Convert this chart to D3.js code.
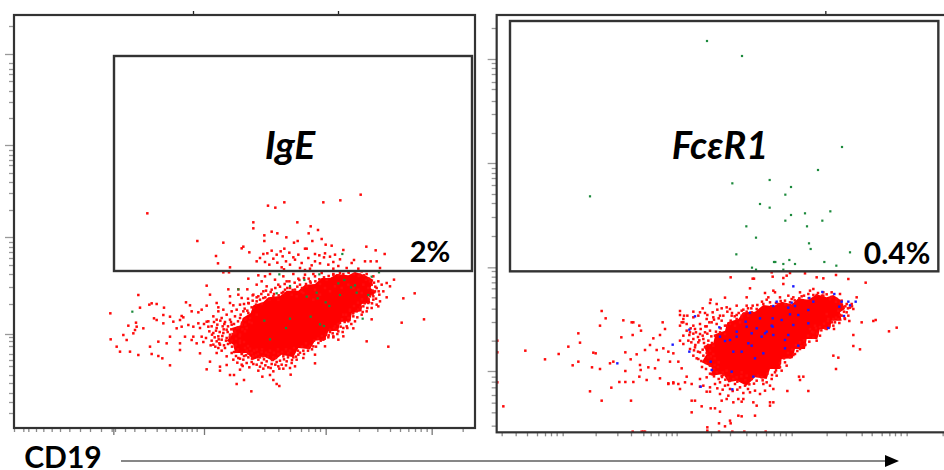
<!DOCTYPE html>
<html><head><meta charset="utf-8">
<script src="https://cdn.jsdelivr.net/npm/d3@7/dist/d3.min.js"></script>
<style>html,body{margin:0;padding:0;background:#fff;overflow:hidden}svg{display:block}text{font-family:Lato,"Open Sans",sans-serif;font-weight:700;fill:#000}</style>
</head><body><svg id="c" width="944" height="470"></svg>
<script>
// Channels. Left panel: IgE vs CD19
const leftRed=[[1082,700],[853,677],[804,667],[826,661],[970,677],[1021,683],[442,644],[760,617],[760,599],[892,617],[932,605],[926,584],[954,594],[815,589],[832,584],[793,578],[793,561],[859,572],[592,561],[670,556],[730,544],[725,539],[748,527],[882,556],[893,561],[937,561],[965,567],[977,550],[995,547],[1099,544],[1127,533],[1154,522],[648,516],[654,494],[690,482],[670,467],[687,467],
[790,522],[802,524],[815,532],[830,520],[842,530],[853,538],[868,526],[880,512],[915,538],[920,538],[945,522],[958,518],[975,524],[990,514],[1005,520],[1030,534],[1020,506],[1062,504],[1095,500],[1112,500],[1130,500],[770,500],[780,510],[795,498],[808,490],[820,508],[832,496],[848,515],[858,500],[870,490],[885,505],[895,520],[905,495],[925,510],[935,488],[945,500],[960,494],[972,512],[985,490],[1000,498],[1015,486],[1040,480],[1055,495],[1075,478],[845,482],[852,476],[900,480],[915,474],[930,478],[1000,478],[1045,470],[1085,470],[1140,480],
[745,448],[775,458],[785,440],[770,430],[795,455],[810,462],[825,445],[800,425],[790,410],[815,415],[835,430],[850,455],[860,440],[880,462],[895,448],[915,460],[930,440],[945,455],[965,465],[980,445],[1000,460],[1020,465],[870,420],[885,415],[900,430],[920,425],[945,415],[845,405],[905,408],[960,432],[1080,460],[1100,462],[1120,455],[1135,440],[1145,430],[1160,435],[1182,445],[1170,425],[1150,410],[1130,420],[1120,395],[1138,400],[1160,392],[1140,380],[1115,430],[1098,445],[1135,365],
[620,427],[630,400],[685,416],[715,416],[742,416],[690,395],[715,400],[725,390],[760,400],[775,395],[650,375],[655,362],[690,375],[700,368],[720,370],[745,375],[770,380],[655,350],[670,355],[680,340],[695,350],[710,355],[730,350],[745,345],[760,360],[785,372],[640,335],[625,320],[650,325],[665,330],[675,318],[690,325],[705,335],[720,330],[735,325],[750,330],[635,305],[650,300],[668,305],[680,295],[695,310],[712,300],[725,310],[740,300],[755,315],[770,340],[640,285],[655,275],[670,285],[690,280],[705,290],[720,280],[635,262],[650,260],[665,265],[680,270],[695,262],[735,290],
[462,329],[490,339],[510,334],[545,336],[550,332],[540,324],[520,319],[490,314],[470,324],[408,316],[385,307],[410,304],[405,294],[400,284],[430,299],[370,279],[380,264],[350,244],[360,229],[332,266],[331,344],[415,399],[420,361],[448,370],[455,374],[470,372],[492,361],[558,377],[570,368],[620,367],[605,355],[575,350],[595,347],[390,229],[415,219],[450,244],[475,259],[500,254],[510,274],[530,299],[545,304],[565,309],[580,304],[595,314],[620,319],[625,304],[605,274],[580,274],[575,264],[555,274],[540,254],[540,234],[590,254],[600,224],[455,222],[475,216],[487,209],[510,188],[620,176],[630,199],[660,184],[660,172],[680,189],[690,159],[702,159],[710,132],[732,144],[754,110],[820,144],[830,132],[838,126],[787,154],[810,159],[872,160],[945,194],[1100,260],[1165,244],[1205,316],[1272,326],[1210,389],[1244,404],[1115,326],[1060,299],
[660,250],[675,240],[690,255],[705,245],[720,255],[735,240],[650,225],[665,232],[680,215],[695,225],[710,230],[725,222],[740,232],[755,225],[770,235],[785,228],[700,205],[715,210],[730,205],[745,212],[760,215],[775,205],[790,215],[805,222],[820,212],[835,222],[850,215],[865,225],[880,212],[895,220],[910,232],[925,240],[940,245],[955,255],[970,265],[985,272],[1000,275],[1015,290],[1030,300],[1045,320],[1060,335],[725,190],[740,195],[755,198],[770,190],[785,195],[800,200],[815,192],[830,198],[845,190],[860,200],[875,195],[890,205],[720,175],[775,172],[790,178],[805,182],[820,170],[835,185],[850,178],[885,185],[910,210],[945,220],[975,245],[1015,265],[1030,275],
[1045,330],[1060,345],[1075,355],[1090,365],[1105,375],[1120,385],[1065,320],[1085,340],[1100,350],[1115,360],[1130,370],[1030,340],[1050,355],[1110,395],[1125,410],[1085,405],[1020,315],[1005,305],[990,295],[1040,305],
[790,390],[805,400],[820,395],[835,385],[855,415],[875,400],[890,395],[910,405],[925,395],[940,385],[960,400],[975,420],[990,410],[1005,425],[1025,420],[1045,430],[1060,420],[1075,415],[1090,430],[1105,420],[1118,412]];
const leftFringe=[[642,318],[652,310],[661,322],[673,312],[684,305],[693,318],[702,312],[714,320],[726,316],[738,328],[648,292],[659,288],[671,296],[683,288],[694,296],[706,284],[716,302],[727,296],[736,310],[748,318],[644,272],[656,266],[667,276],[678,262],[689,272],[698,282],[708,268],[719,276],[632,248],[646,244],[658,254],[672,248],[684,252],[696,244],[708,250],[720,262],[732,258],[744,246],
[702,228],[714,236],[726,226],[738,218],[750,238],[762,232],[774,222],[786,236],[798,226],[810,232],[822,226],[834,236],[846,228],[858,236],[870,232],[882,240],[894,232],[906,244],[918,254],[930,246],[942,262],[954,268],[966,276],
[708,216],[720,208],[732,216],[744,224],[756,208],[768,218],[780,212],[792,206],[804,214],[816,204],[828,210],[840,202],[852,206],[864,212],[876,204],[888,214],[900,226],[912,222],[924,232],[936,236],[948,244],
[712,196],[728,186],[748,182],[760,192],[780,184],[796,188],[812,180],[826,190],[838,178],[858,188],[870,180],
[978,280],[990,288],[1002,300],[1014,312],[1026,326],[1038,340],[1050,352],[1062,366],[1074,376],[1086,386],
[962,262],[974,268],[986,278],[998,284],[1010,296],[1022,304],[1034,318],[1046,330],[1058,344],[1070,350],[1082,362],[1094,374],[1106,386],[1118,400],
[1000,272],[1012,282],[1028,288],[1042,300],[1054,312],[1072,332],[1088,348],[1102,360],[1116,374],[1128,388],[1136,410],[1126,424],[1110,440],[1122,436],
[742,352],[755,362],[768,370],[780,385],[796,392],[808,385],[822,402],[836,398],[850,408],[862,420],[878,414],[892,424],[906,420],[918,432],[932,436],[946,440],[958,446],[972,452],[986,456],[1000,462],[1016,458],[1030,462],[1046,466],[1062,462],[1076,456],[1092,458],[1106,448],
[770,392],[784,402],[798,412],[812,408],[826,420],[840,424],[854,432],[868,440],[884,436],[898,444],[912,450],[926,448],[940,462],
[722,340],[734,358],[746,374],[758,382],[732,372],[744,388],[758,398],[600,300],[612,312],[628,290],[636,280],[618,270],[610,258],[640,250],[655,240]];
const leftCore=[[680,262],[700,285],[695,300],[722,308],[728,330],[752,345],[760,368],[790,378],[805,392],[840,396],[860,412],[895,412],[915,430],[945,432],[965,450],[990,450],[1010,462],[1045,458],[1065,468],[1095,458],[1120,445],[1112,420],[1128,405],[1105,395],[1112,375],[1085,372],[1085,350],[1055,345],[1052,320],[1020,318],[1015,292],[985,290],[975,265],[945,262],[930,236],[895,240],[880,212],[845,220],[820,200],[790,215],[760,205],[740,225],[705,225],[700,250]];
const leftGreen=[[397,349],[715,416],[830,404],[838,461],[870,426],[913,444],[958,461],[1027,522],[1015,434],[1033,444],[1137,467],[1115,454],[950,406],[953,389],[977,377],[988,366],[1020,399],[1070,406],[1053,422],[1065,428],[1105,399],[1088,328],[793,322],[870,328],[932,334],[858,300],[810,266],[960,311],[972,306],[920,394]];
const leftGate=[342,1416,471,1116];
const leftXTicks=[42,70,85,108,130,155,180,208,240,270,303,335,345,375,403,435,470,497,525,545,560,575,590,725,793,835,870,903,925,945,960,1077,1132,1170,1200,1225,1245,1262,1280,1388];
const leftXMajor=[340,612,977,1295];
const leftTopTicks=[579,1014];
const leftYMajor=[1122,849,573,282];
const leftYTicks=[1206,1095,1077,1062,1041,1011,978,930,834,819,804,789,765,738,705,654,558,543,528,510,489,462,423,372,273,261,246,222,204,186,159,135,105,78,45];
// Right panel: FceR1 vs CD19
const rightRed=[[752,465],[818,461],[822,461],[810,432],[875,480],[878,467],[910,463],[920,470],[930,478],[975,477],[1010,465],[1030,462],[1068,472],[1105,460],[1157,449],[910,445],[880,425],[855,418],[865,405],[885,420],[800,405],[735,404],[692,398],[690,388],
[1000,430],[1030,420],[1055,420],[1080,415],[990,425],[960,420],[925,410],[900,405],[935,400],[1070,400],[1085,395],[1100,385],[1115,385],[1130,405],[1120,370],[1100,360],[1085,350],[1095,340],[1075,340],[1065,330],
[600,364],[612,350],[640,345],[660,360],[675,358],[710,385],[725,372],[740,375],[750,370],[770,380],[785,365],[800,380],[815,360],[830,370],[755,350],[770,340],[785,350],[720,350],[700,345],[680,340],[605,330],[620,325],[640,320],[660,325],[680,318],[695,330],[710,325],[725,335],[600,275],[610,290],[620,305],[630,300],[645,310],[660,295],[675,300],[690,305],[705,290],[720,300],[735,295],[610,265],[625,275],[640,280],[655,270],[670,280],[685,275],[700,260],[630,250],[645,255],[660,240],[675,255],[690,245],[640,230],[655,220],[670,230],[685,225],[700,235],
[680,165],[695,175],[710,180],[725,170],[740,185],[755,175],[770,165],[785,180],[800,170],[815,160],[830,155],[845,165],[860,150],[875,160],[890,170],[905,185],[920,200],[660,160],[670,140],[690,135],[705,145],[720,150],[735,140],[750,130],[765,145],[780,135],[795,140],[810,120],[825,125],[840,115],[855,125],[870,140],[880,130],[635,145],[615,150],[600,130],[595,145],[580,150],[565,145],[660,137],[680,122],[690,122],[720,115],[745,110],[740,100],[725,95],[785,92],[790,100],[760,90],[775,100],[830,80],[820,90],[870,90],[880,90],[870,80],[825,50],[635,60],[645,95],[635,95],[665,78],[692,72],[705,72],[720,62],[775,50],[785,48],[750,35],[735,18],[717,27],[752,27],[682,15],[682,5],[717,2],[757,2],[793,2],[857,2],[458,2],[490,2],[485,2],[495,2],[52,275],[52,240],[52,150],[70,78],[136,245],
[365,364],[377,342],[360,320],[295,297],[300,269],[265,257],[236,235],[195,219],[278,201],[295,212],[340,239],[347,237],[336,195],[360,190],[390,207],[400,212],[430,336],[455,330],[460,330],[478,320],[483,305],[424,285],[458,292],[436,240],[452,219],[470,234],[436,184],[418,151],[436,151],[460,151],[394,134],[330,123],[365,95],[453,95],[480,202],[482,187],[478,167],[500,157],[505,195],[525,192],[540,162],[565,147],[580,147],[495,247],[510,262],[520,282],[540,292],[548,330],[555,310],[530,247],[535,217],[550,252],[565,242],[580,237],[570,212],[595,212],[605,192],[620,167],[600,320],[610,330],
[1145,330],[1180,334],[1187,337],[1227,303],[1250,314],[1120,292],[1140,249],[1120,259],[1060,230],[1075,224],[1068,190],[985,124],[922,124],[957,167],[960,157],[970,167],
[1040,355],[1060,340],[1000,300],[1020,290],[1040,310],[1060,320],[1010,275],[975,265],[960,250],[945,235],[930,225],[915,210],[900,195],[885,180],[1005,320],[990,310],[1045,340],[1075,365],[1090,375],[1105,350],[850,145],
[790,355],[805,350],[750,325],[765,320],[780,330],[735,320],[850,385],[870,390],[895,385],[915,395],[940,405],[965,408],[985,415],[1010,412],[1030,410],[1050,400]];
const rightFringe=[[632,312],[648,300],[662,310],[676,318],[688,330],[702,338],[716,342],[730,350],[742,362],[756,358],[770,352],[628,292],[640,296],[654,286],[668,290],[682,296],[694,288],[708,302],[722,312],[634,270],[646,262],[658,276],[672,268],[684,262],[696,268],[642,246],[654,242],[668,248],[680,238],[692,228],[704,222],[650,222],[664,214],[678,208],[690,214],[704,202],[716,210],[728,180],[666,196],[678,190],[690,200],[702,190],[714,196],[726,166],[736,158],[748,154],[760,160],[772,152],[784,168],[796,156],[808,144],[822,146],[834,170],[848,156],[862,176],[876,172],[888,186],[900,208],[912,222],[924,238],[936,248],[948,262],[960,270],[690,176],[702,168],[716,160],[730,172],[744,164],[712,132],[728,128],[744,142],[758,124],[772,128],[790,118],[804,130],
[972,276],[984,290],[996,302],[1008,312],[1020,316],[1032,326],[1044,334],[1056,330],[1068,344],[1080,352],[1092,362],[1104,372],[1116,378],[940,232],[952,244],[964,258],[976,262],[988,272],[1000,284],[1012,296],[1024,306],[1036,312],[1048,318],[1062,310],[1078,328],[1094,342],[1108,334],
[740,320],[752,335],[764,348],[776,358],[790,368],[804,372],[818,380],[832,382],[846,392],[860,398],[874,378],[888,388],[902,394],[916,384],[930,390],[944,396],[958,402],[972,410],[986,402],[1000,412],[1014,418],[1026,410],[1040,414],[1054,406],[1068,392],[1082,388],[1096,378],[1110,374],[786,345],[800,362],[814,372],[610,340],[622,350],[600,352],[640,362],[655,350],[668,372],[682,352],[698,360],[712,368]];
const rightCore=[[665,210],[680,235],[672,260],[700,268],[706,295],[735,305],[742,330],[775,340],[790,360],[825,362],[850,382],[880,378],[905,392],[935,384],[955,402],[985,398],[1010,414],[1040,405],[1060,412],[1085,395],[1095,370],[1080,360],[1085,335],[1055,335],[1050,310],[1020,310],[1012,280],[980,280],[975,250],[945,250],[938,222],[905,220],[900,190],[870,190],[860,160],[825,165],[800,140],[770,155],[745,150],[730,175],[695,170],[695,195]];
const rightGreen=[[681,1174],[786,1129],[1086,856],[1014,787],[757,747],[933,736],[869,757],[916,713],[840,685],[869,674],[933,652],[975,657],[1051,663],[916,635],[1027,635],[799,618],[981,618],[828,584],[987,567],[992,550],[1110,540],[769,534],[330,708],[882,511],[886,511],[910,505],[928,517],[945,505],[1033,511],[1069,500],[816,494],[828,488],[910,488]];
const rightBlue=[[645,348],[628,308],[578,263],[412,207],[628,242],[692,212],[662,137],[757,129],[755,182],[940,438],[1027,421],[1063,415],[988,403],[1127,392],[1110,381],[1092,349],[1045,313],[955,260],[915,252],[880,379],[890,392],[935,389],[945,379],[1000,392],[1078,377],[810,359],[797,332],[718,315],[840,342],[875,320],[878,317],[830,312],[815,297],[805,267],[815,260],[760,242],[785,242],[720,287],[750,277],[770,287],[855,297],[880,292],[925,292],[940,322],[955,352],[985,327],[930,354],[925,374],[825,222],[850,237],[915,277],[985,367],[1105,392],[1085,392],[905,337],[878,342],[860,302],[845,287],[735,274],[800,317],[770,302],[695,187],[820,167]];
const rightGate=[90,1375,483,1234];
const rightXTicks=[65,107,141,171,195,213,230,248,347,412,453,490,512,535,558,575,590,693,750,799,828,858,881,900,917,935,1040,1098,1145,1175,1205,1228,1245,1262,1280,1388];
const rightTopTicks=[1036];
const rightYMajor=[1120,808,495,184];
const rightYTicks=[1213,1108,1093,1075,1051,1030,994,955,898,793,778,763,742,715,688,646,589,484,467,450,432,405,371,331,275,167,152,135,112,89,60,20];
const panelLabels=["IgE","FcεR1"];
const percentLabels=["2%","0.4%"];
const axisTitle="CD19";

const svg=d3.select("#c");
function panel(o){
  const x=d3.scaleLinear().domain(o.xd).range(o.xr);
  const y=d3.scaleLinear().domain(o.yd).range(o.yr);
  const g=svg.append("g");
  const line=d3.line().x(d=>x(d[0])).y(d=>y(d[1])).curve(d3.curveLinearClosed);
  g.append("path").attr("d",line(o.core)).attr("fill","#ff0000");
  const pts=(data,color,s)=>g.append("g").selectAll("rect").data(data).join("rect")
    .attr("x",d=>x(d[0])-s/2).attr("y",d=>y(d[1])-s/2).attr("width",s).attr("height",s).attr("fill",color);
  pts(o.red,"#ff0a0a",2.5);
  pts(o.fringe,"#ff0a0a",2.5);
  pts(o.green,"#1c8a3c",2.2);
  if(o.blue)pts(o.blue,"#1a1aff",2.4);
  const tick=(axis,vals,size,tr,color)=>{
    const a=g.append("g").attr("transform",tr).call(axis.tickValues(vals).tickSize(size).tickFormat(""));
    a.select(".domain").remove();
    a.selectAll("line").attr("stroke",color).attr("stroke-width",1.3);
  };
  const bot=`translate(0,${o.yr[0]})`, lef=`translate(${o.xr[0]},0)`, top=`translate(0,${o.yr[1]})`;
  tick(d3.axisBottom(x),o.xt,4,bot,"#8a8a8a");
  if(o.xm)tick(d3.axisBottom(x),o.xm,7,bot,"#777");
  tick(d3.axisTop(x),o.tt,4,top,"#222");
  tick(d3.axisLeft(y),o.yt,5,lef,"#999");
  tick(d3.axisLeft(y),o.ym,9,lef,"#999");
  g.append("rect").attr("x",o.xr[0]).attr("y",o.yr[1]).attr("width",o.xr[1]-o.xr[0]).attr("height",o.yr[0]-o.yr[1]).attr("fill","none").attr("stroke","#333").attr("stroke-width",2.2);
  g.append("rect").attr("x",x(o.gate[0])).attr("y",y(o.gate[3])).attr("width",x(o.gate[1])-x(o.gate[0])).attr("height",y(o.gate[2])-y(o.gate[3])).attr("fill","none").attr("stroke","#333").attr("stroke-width",2.4);
}
panel({xd:[42,1425],xr:[14,475],yd:[0,1239],yr:[428,15],core:leftCore,red:leftRed,fringe:leftFringe,green:leftGreen,gate:leftGate,xt:leftXTicks,xm:leftXMajor,tt:leftTopTicks,yt:leftYTicks,ym:leftYMajor});
panel({xd:[50,1398],xr:[496.67,946],yd:[0,1252],yr:[432.33,15],core:rightCore,red:rightRed,fringe:rightFringe,green:rightGreen,blue:rightBlue,gate:rightGate,xt:rightXTicks,tt:rightTopTicks,yt:rightYTicks,ym:rightYMajor});
const T=(s,x,y,size,it)=>svg.append("text").attr("x",x).attr("y",y).attr("font-size",size).attr("font-style",it?"italic":"normal").attr("text-anchor","middle").text(s);
T(panelLabels[0],290,159,39,true);
T(panelLabels[1],720,159,38,true);
T(percentLabels[0],430,262,29,false);
T(percentLabels[1],897,264,30,false);
T(axisTitle,63,468,30,false);
svg.append("line").attr("x1",121).attr("x2",887).attr("y1",461).attr("y2",461).attr("stroke","#111").attr("stroke-width",1.2);
svg.append("path").attr("d",d3.line()([[885,455],[899,461],[885,467]])+"Z").attr("fill","#000");
</script></body></html>
